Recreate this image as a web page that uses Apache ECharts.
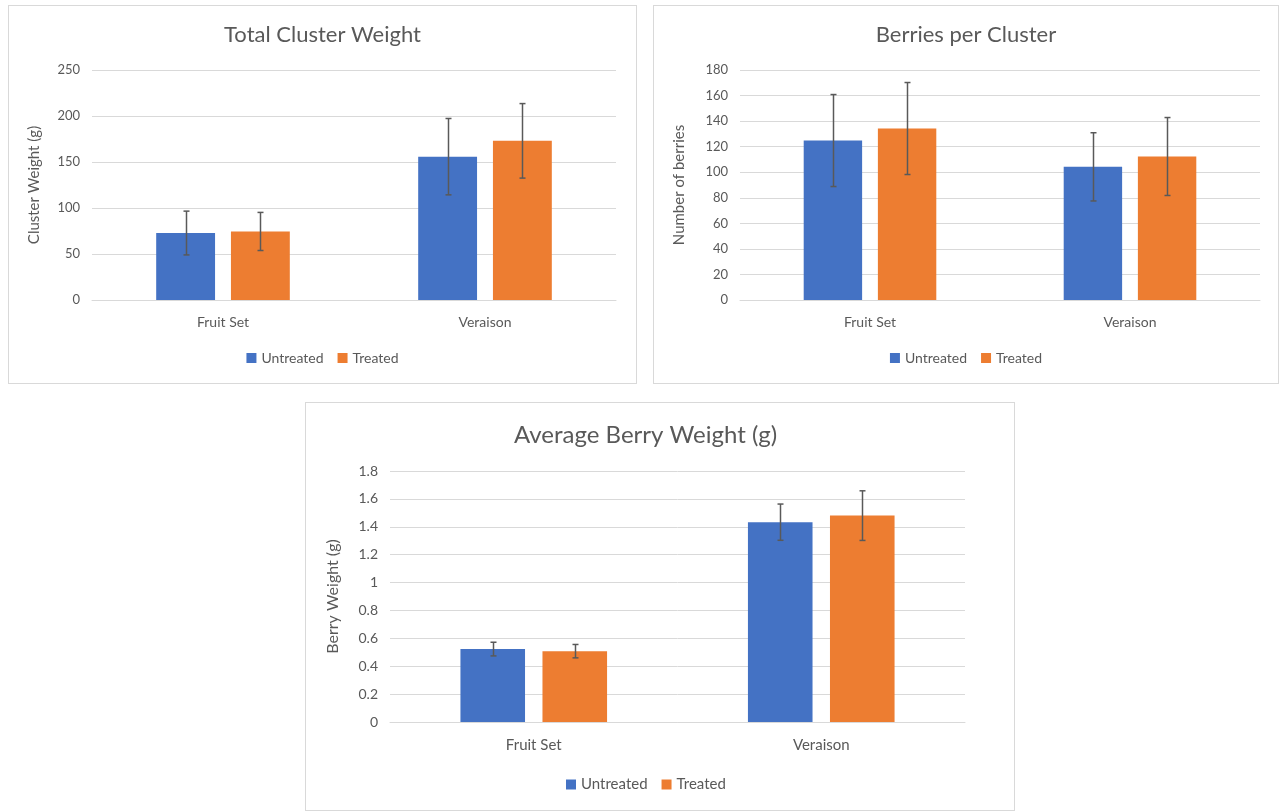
<!DOCTYPE html>
<html>
<head>
<meta charset="utf-8">
<script src="https://cdn.jsdelivr.net/npm/echarts@6/dist/echarts.min.js"></script>
<style>
  body { margin: 0; background: #fff; }
  .panel { position: absolute; box-sizing: border-box; border: 1px solid #d9d9d9; background: #fff; }
</style>
</head>
<body>
<div id="c1" class="panel" style="left:8px;top:5px;width:629px;height:379px;"></div>
<div id="c2" class="panel" style="left:653px;top:5px;width:626px;height:379px;"></div>
<div id="c3" class="panel" style="left:305px;top:402px;width:710px;height:409px;"></div>
<script>
var categories = ['Fruit Set', 'Veraison'];
var seriesNames = ['Untreated', 'Treated'];
var colors = ['#4472C4', '#ED7D31'];

// Total Cluster Weight (g)
var clusterUntreated = [72.8, 155.8];
var clusterTreated = [74.5, 173];
var clusterUntreatedErr = [23.8, 41.5];
var clusterTreatedErr = [20.7, 40.5];

// Berries per Cluster
var berriesUntreated = [124.8, 104.2];
var berriesTreated = [134.2, 112.3];
var berriesUntreatedErr = [36, 26.7];
var berriesTreatedErr = [36, 30.5];

// Average Berry Weight (g)
var berryWtUntreated = [0.523, 1.433];
var berryWtTreated = [0.508, 1.48];
var berryWtUntreatedErr = [0.049, 0.13];
var berryWtTreatedErr = [0.048, 0.178];

var FONT = 'Lato, "Open Sans", sans-serif';
var TXT = '#595959';
var CAT_GAP = 0.49, BAR_GAP = 0.27;

// error bars drawn on top of the bars, offset like the bar series
function errorSeries(name, values, errs, idx) {
    return {
        type: 'custom',
        name: name + ' err',
        z: 10,
        silent: true,
        encode: {x: 0, y: [1, 2]},
        data: values.map(function (v, i) { return [i, v - errs[i], v + errs[i]]; }),
        renderItem: function (params, api) {
            var lo = api.coord([api.value(0), api.value(1)]);
            var hi = api.coord([api.value(0), api.value(2)]);
            var band = api.size([1, 0])[0];
            var bw = band * (1 - CAT_GAP) / (2 + BAR_GAP);
            var off = (idx === 0 ? -1 : 1) * bw * (1 + BAR_GAP) / 2;
            var x = Math.round(lo[0] + off) + 0.5;
            var cap = 3;
            var st = {stroke: '#595959', lineWidth: 1.5};
            return {
                type: 'group',
                children: [
                    {type: 'line', shape: {x1: x, y1: lo[1], x2: x, y2: hi[1]}, style: st},
                    {type: 'line', shape: {x1: x - cap, y1: lo[1], x2: x + cap, y2: lo[1]}, style: st},
                    {type: 'line', shape: {x1: x - cap, y1: hi[1], x2: x + cap, y2: hi[1]}, style: st}
                ]
            };
        }
    };
}

function buildOption(cfg) {
    return {
        animation: false,
        textStyle: {fontFamily: FONT},
        color: colors,
        title: {
            text: cfg.title,
            left: cfg.titleLeft,
            top: cfg.titleTop,
            textStyle: {fontFamily: FONT, fontSize: cfg.titleSize, fontWeight: 'normal', color: TXT}
        },
        legend: {
            data: seriesNames,
            left: cfg.legendLeft,
            top: cfg.legendTop,
            icon: 'rect',
            itemWidth: 10,
            itemHeight: 10,
            itemGap: 14,
            textStyle: {fontFamily: FONT, fontSize: cfg.legendSize, color: TXT}
        },
        grid: cfg.grid,
        xAxis: {
            type: 'category',
            data: categories,
            axisLine: {lineStyle: {color: '#d9d9d9', width: 1}},
            axisTick: {show: false},
            axisLabel: {color: TXT, fontSize: cfg.catSize, margin: cfg.catMargin, fontFamily: FONT}
        },
        yAxis: {
            type: 'value',
            min: 0,
            max: cfg.max,
            interval: cfg.interval,
            name: cfg.yName,
            nameLocation: 'middle',
            nameGap: cfg.nameGap,
            nameTextStyle: {color: TXT, fontSize: cfg.nameSize, fontFamily: FONT},
            axisLine: {show: false},
            axisTick: {show: false},
            axisLabel: {color: TXT, fontSize: cfg.fontSize, margin: 12, fontFamily: FONT},
            splitLine: {lineStyle: {color: '#d9d9d9', width: 1}}
        },
        series: [
            {type: 'bar', name: seriesNames[0], data: cfg.u, barGap: (BAR_GAP * 100) + '%', barCategoryGap: (CAT_GAP * 100) + '%'},
            {type: 'bar', name: seriesNames[1], data: cfg.t, barGap: (BAR_GAP * 100) + '%', barCategoryGap: (CAT_GAP * 100) + '%'},
            errorSeries(seriesNames[0], cfg.u, cfg.uErr, 0),
            errorSeries(seriesNames[1], cfg.t, cfg.tErr, 1)
        ]
    };
}

var chart1 = echarts.init(document.getElementById('c1'));
chart1.setOption(buildOption({
    title: 'Total Cluster Weight', titleTop: 13, titleSize: 22, titleLeft: 'center',
    grid: {left: 83, top: 64, width: 524, height: 230},
    max: 250, interval: 50, yName: 'Cluster Weight (g)', nameGap: 50, nameSize: 15,
    fontSize: 13, catSize: 14, legendSize: 14, catMargin: 15, legendTop: 340, legendLeft: 'center',
    u: clusterUntreated, t: clusterTreated, uErr: clusterUntreatedErr, tErr: clusterTreatedErr
}));

var chart2 = echarts.init(document.getElementById('c2'));
chart2.setOption(buildOption({
    title: 'Berries per Cluster', titleTop: 13, titleSize: 22, titleLeft: 'center',
    grid: {left: 86, top: 64, width: 520, height: 230},
    max: 180, interval: 20, yName: 'Number of berries', nameGap: 53, nameSize: 15,
    fontSize: 13, catSize: 14, legendSize: 14, catMargin: 15, legendTop: 340, legendLeft: 'center',
    u: berriesUntreated, t: berriesTreated, uErr: berriesUntreatedErr, tErr: berriesTreatedErr
}));

var chart3 = echarts.init(document.getElementById('c3'));
chart3.setOption(buildOption({
    title: 'Average Berry Weight (g)', titleTop: 15, titleSize: 24, titleLeft: 203,
    grid: {left: 84, top: 68, width: 575, height: 251},
    max: 1.8, interval: 0.2, yName: 'Berry Weight (g)', nameGap: 49, nameSize: 16,
    fontSize: 14, catSize: 15, legendSize: 15, catMargin: 16, legendTop: 369, legendLeft: 255,
    u: berryWtUntreated, t: berryWtTreated, uErr: berryWtUntreatedErr, tErr: berryWtTreatedErr
}));
</script>
</body>
</html>
